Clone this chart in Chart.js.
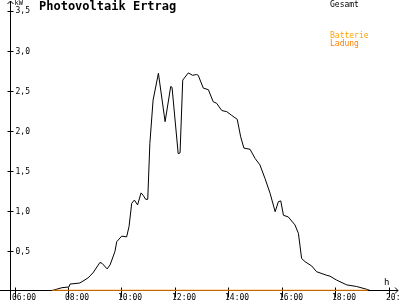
<!DOCTYPE html>
<html>
<head>
<meta charset="utf-8">
<script src="https://cdn.jsdelivr.net/npm/chart.js"></script>
<style>
  body { margin: 0; background: #fff; }
  canvas { display: block; }
</style>
</head>
<body>
<canvas id="pvChart" width="400" height="300"></canvas>
<script>
// hours of day (decimal) and kW
const gesamtHours = [7.37, 7.74, 8.0, 8.04, 8.41, 8.71, 8.9, 9.16, 9.24, 9.43, 9.54, 9.72, 9.79, 9.975, 10.16, 10.25, 10.35, 10.45, 10.57, 10.7, 10.78, 10.87, 10.95, 11.03, 11.15, 11.35, 11.6, 11.81, 11.86, 12.09, 12.16, 12.26, 12.47, 12.63, 12.78, 12.84, 13.03, 13.22, 13.4, 13.53, 13.72, 13.91, 14.09, 14.3, 14.43, 14.55, 14.78, 14.97, 15.15, 15.34, 15.53, 15.72, 15.84, 15.93, 16.03, 16.21, 16.46, 16.59, 16.71, 16.84, 17.09, 17.27, 17.65, 17.77, 18.02, 18.4, 18.77, 19.15, 19.27];
const gesamtKw = [0, 0.035, 0.044, 0.08, 0.094, 0.156, 0.22, 0.35, 0.34, 0.27, 0.32, 0.485, 0.61, 0.68, 0.67, 0.8, 1.09, 1.13, 1.07, 1.22, 1.19, 1.14, 1.14, 1.84, 2.38, 2.715, 2.11, 2.55, 2.54, 1.71, 1.72, 2.63, 2.72, 2.69, 2.7, 2.69, 2.53, 2.51, 2.36, 2.34, 2.25, 2.235, 2.19, 2.14, 1.92, 1.78, 1.765, 1.65, 1.57, 1.4, 1.215, 0.985, 1.11, 1.12, 0.94, 0.92, 0.82, 0.715, 0.4, 0.36, 0.306, 0.235, 0.19, 0.18, 0.13, 0.07, 0.05, 0.015, 0];

const batterieHours = [7.37, 19.19];
const batterieKw = [0, 0];
const ladungHours = [7.37, 19.19];
const ladungKw = [0, 0];

const xTicks = [6, 8, 10, 12, 14, 16, 18, 20];
const xTickLabels = ["06:00", "08:00", "10:00", "12:00", "14:00", "16:00", "18:00", "20:00"];
const yTicks = [0.5, 1, 1.5, 2, 2.5, 3, 3.5];
const yTickLabels = ["0,5", "1,0", "1,5", "2,0", "2,5", "3,0", "3,5"];

const toPoints = (xs, ys) => xs.map((x, i) => ({ x: x, y: ys[i] }));

const MONO = '"DejaVu Sans Mono", "Liberation Mono", monospace';

// draws the arrow axes, tick crosses and texts
const axesPlugin = {
  id: "axes",
  beforeDatasetsDraw(chart) {
    const ctx = chart.ctx;
    const xs = chart.scales.x, ys = chart.scales.y;
    const x0 = Math.round(xs.getPixelForValue(6)) - 5.5;
    const y0 = ys.getPixelForValue(0);
    ctx.save();
    ctx.strokeStyle = "#000";
    ctx.fillStyle = "#000";
    ctx.lineWidth = 1;
    ctx.beginPath();
    // y axis
    ctx.moveTo(x0, 300); ctx.lineTo(x0, 1);
    ctx.moveTo(x0 - 3, 4); ctx.lineTo(x0, 1); ctx.lineTo(x0 + 3, 4);
    // x axis
    ctx.moveTo(0, y0); ctx.lineTo(398, y0);
    ctx.moveTo(395, y0 - 3); ctx.lineTo(398, y0); ctx.lineTo(395, y0 + 3);
    yTicks.forEach(v => {
      const py = Math.round(ys.getPixelForValue(v)) + 0.5;
      ctx.moveTo(x0 - 3, py); ctx.lineTo(x0 + 3, py);
    });
    xTicks.forEach(v => {
      const px = Math.round(xs.getPixelForValue(v)) - 0.5;
      ctx.moveTo(px, y0 - 3); ctx.lineTo(px, y0 + 7);
    });
    ctx.stroke();

    ctx.font = "8px " + MONO;
    ctx.textBaseline = "middle";
    ctx.textAlign = "left";
    yTicks.forEach((v, i) => {
      const py = Math.round(ys.getPixelForValue(v)) + 0.5;
      ctx.fillText(yTickLabels[i], x0 + 5, i === yTicks.length - 1 ? py - 1 : py);
    });
    ctx.textBaseline = "top";
    xTicks.forEach((v, i) => {
      const px = Math.round(xs.getPixelForValue(v));
      ctx.fillText(xTickLabels[i], px - 4, y0 + 3);
    });
    ctx.font = "7px " + MONO;
    ctx.fillText("kW", x0 + 4, 0);
    ctx.font = "9px " + MONO;
    ctx.textBaseline = "middle";
    ctx.fillText("h", 384, 283);

    // title
    ctx.font = "bold 12px " + MONO;
    ctx.fillText("Photovoltaik Ertrag", 39, 7);

    // legend from the dataset labels
    ctx.font = "8px " + MONO;
    const legendY = [5, 36, 44];
    chart.data.datasets.forEach((ds, i) => {
      ctx.fillStyle = ds.borderColor;
      ctx.fillText(ds.label, 330, legendY[i]);
    });
    ctx.restore();
  }
};

new Chart(document.getElementById("pvChart"), {
  type: "line",
  data: {
    datasets: [
      {
        label: "Gesamt",
        data: toPoints(gesamtHours, gesamtKw),
        borderColor: "#000000",
        borderWidth: 1,
        pointRadius: 0,
        tension: 0,
        order: 2
      },
      {
        label: "Batterie",
        data: toPoints(batterieHours, batterieKw),
        borderColor: "#FFA500",
        borderWidth: 1,
        pointRadius: 0,
        tension: 0,
        order: 1
      },
      {
        label: "Ladung",
        data: toPoints(ladungHours, ladungKw),
        borderColor: "#FF8000",
        borderWidth: 1.5,
        pointRadius: 0,
        tension: 0,
        order: 0
      }
    ]
  },
  options: {
    responsive: false,
    animation: false,
    layout: { padding: { left: 15.5, right: 10.5, top: 10.5, bottom: 9.5 } },
    scales: {
      x: { type: "linear", min: 6, max: 20, display: false },
      y: { min: 0, max: 3.5, display: false }
    },
    plugins: {
      legend: { display: false },
      tooltip: { enabled: false }
    },
    elements: { line: { borderCapStyle: "butt" } }
  },
  plugins: [axesPlugin]
});
</script>
</body>
</html>
